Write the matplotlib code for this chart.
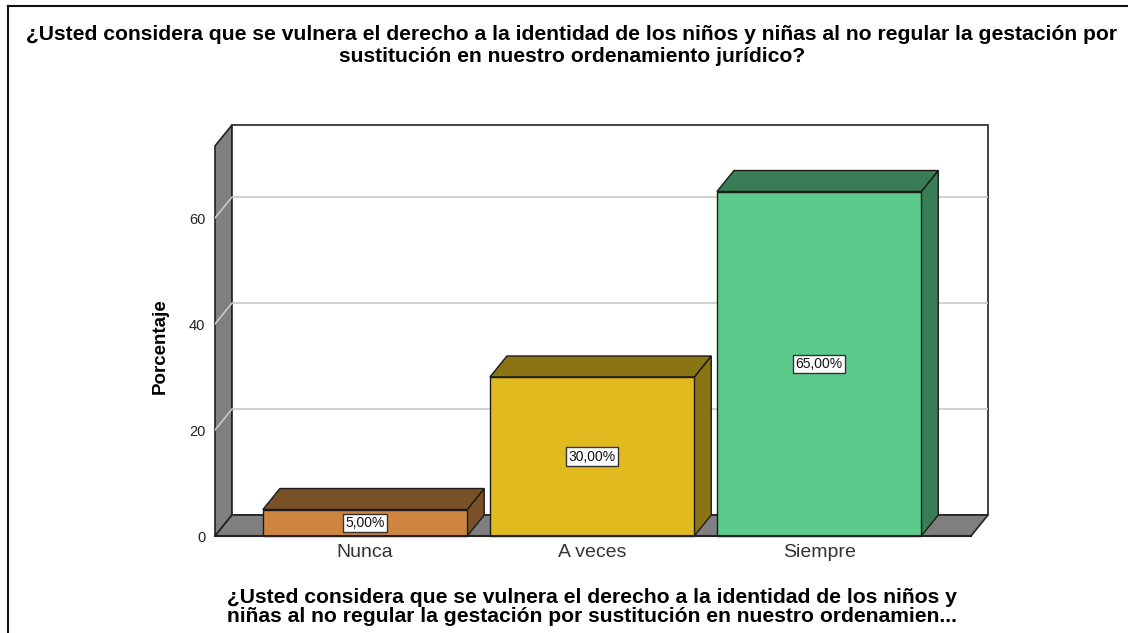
import matplotlib
matplotlib.use("Agg")
import matplotlib.pyplot as plt
from matplotlib.patches import Polygon, Rectangle
from matplotlib.lines import Line2D

plt.rcParams['font.family'] = ['Liberation Sans', 'DejaVu Sans']

# ---- data ----
categories = ["Nunca", "A veces", "Siempre"]
values = [5.0, 30.0, 65.0]
value_labels = ["5,00%", "30,00%", "65,00%"]
y_ticks = [0, 20, 40, 60]
front_colors = ["#CD853F", "#E0BA1F", "#5CCA8B"]
dark_colors = ["#7A5028", "#8A7414", "#387D55"]
title = ("¿Usted considera que se vulnera el derecho a la identidad de los niños y niñas al no regular la gestación por\n"
         "sustitución en nuestro ordenamiento jurídico?")
x_title = ("¿Usted considera que se vulnera el derecho a la identidad de los niños y\n"
           "niñas al no regular la gestación por sustitución en nuestro ordenamien...")
y_title = "Porcentaje"

W, H = 1128, 633
fig = plt.figure(figsize=(W / 100, H / 100), dpi=100)
fig.patch.set_facecolor("white")

# axes geometry (pixels)
L_px, R_px, B_px, T_px = 215, 988, 536, 126
ax = fig.add_axes([L_px / W, (H - B_px) / H, (R_px - L_px) / W, (B_px - T_px) / H])
x0, x1 = -0.661, 2.744
ymax = 77.36
ax.set_xlim(x0, x1)
ax.set_ylim(0, ymax)
for s in ax.spines.values():
    s.set_visible(False)
ax.patch.set_alpha(0)

DX = 17 / 227.0
DY = 3.96
wall_top = 73.6
bw = 0.9

# left wall
ax.add_patch(Polygon([(x0, 0), (x0, wall_top), (x0 + DX, wall_top + DY), (x0 + DX, DY)],
                     closed=True, facecolor="#7F7F7F", edgecolor="#222222", lw=1.2, clip_on=False, zorder=1))
# back wall
ax.add_patch(Rectangle((x0 + DX, DY), x1 - x0 - DX, wall_top, facecolor="white",
                       edgecolor="#222222", lw=1.2, clip_on=False, zorder=1))
# floor
ax.add_patch(Polygon([(x0, 0), (x1 - DX, 0), (x1, DY), (x0 + DX, DY)],
                     closed=True, facecolor="#7F7F7F", edgecolor="#222222", lw=1.2, clip_on=False, zorder=2))
# gridlines
for v in y_ticks[1:]:
    ax.add_line(Line2D([x0, x0 + DX, x1], [v, v + DY, v + DY], color="#C8C8C8", lw=1.2, zorder=1.5))

# bars
for i, (v, fc, dc) in enumerate(zip(values, front_colors, dark_colors)):
    l, r = i - bw / 2, i + bw / 2
    ax.add_patch(Polygon([(r, 0), (r + DX, DY), (r + DX, v + DY), (r, v)], closed=True,
                         facecolor=dc, edgecolor="#1a1a1a", lw=1.0, zorder=3, clip_on=False))
    ax.add_patch(Polygon([(l, v), (r, v), (r + DX, v + DY), (l + DX, v + DY)], closed=True,
                         facecolor=dc, edgecolor="#1a1a1a", lw=1.0, zorder=3, clip_on=False))
    ax.add_patch(Rectangle((l, 0), bw, v, facecolor=fc, edgecolor="#1a1a1a", lw=1.0, zorder=4, clip_on=False))
    ax.text(i, v / 2, value_labels[i], ha="center", va="center", fontsize=10, color="#111111", zorder=5,
            bbox=dict(boxstyle="square,pad=0.15", facecolor="white", edgecolor="#333333", lw=1.0))

# front baseline
ax.add_line(Line2D([x0, x1 - DX], [0, 0], color="#222222", lw=1.5, zorder=5, clip_on=False))

ax.set_yticks(y_ticks)
ax.set_yticklabels([str(t) for t in y_ticks], fontsize=10.5, color="#222222")
ax.set_xticks(range(len(categories)))
ax.set_xticklabels(categories, fontsize=14, color="#333333")
ax.tick_params(axis="y", length=0, pad=7)
ax.tick_params(axis="x", length=0, pad=6)

fig.text(160 / W, 1 - 346 / H, y_title, ha="center", va="center", rotation=90,
         fontsize=13.5, fontweight="bold")

fig.text(572 / W, 1 - 46 / H, title, ha="center", va="center", fontsize=15.2, fontweight="bold",
         linespacing=1.2)
fig.text(592 / W, 1 - 607 / H, x_title, ha="center", va="center", fontsize=15.2, fontweight="bold",
         linespacing=1.02)

# outer frame (partially visible)
fig.add_artist(Line2D([8 / W, 8 / W], [0, 1 - 6 / H], color="#111111", lw=1.5, transform=fig.transFigure))
fig.add_artist(Line2D([8 / W, 1], [1 - 6 / H, 1 - 6 / H], color="#111111", lw=1.5, transform=fig.transFigure))

fig.savefig("out.png", dpi=100)
